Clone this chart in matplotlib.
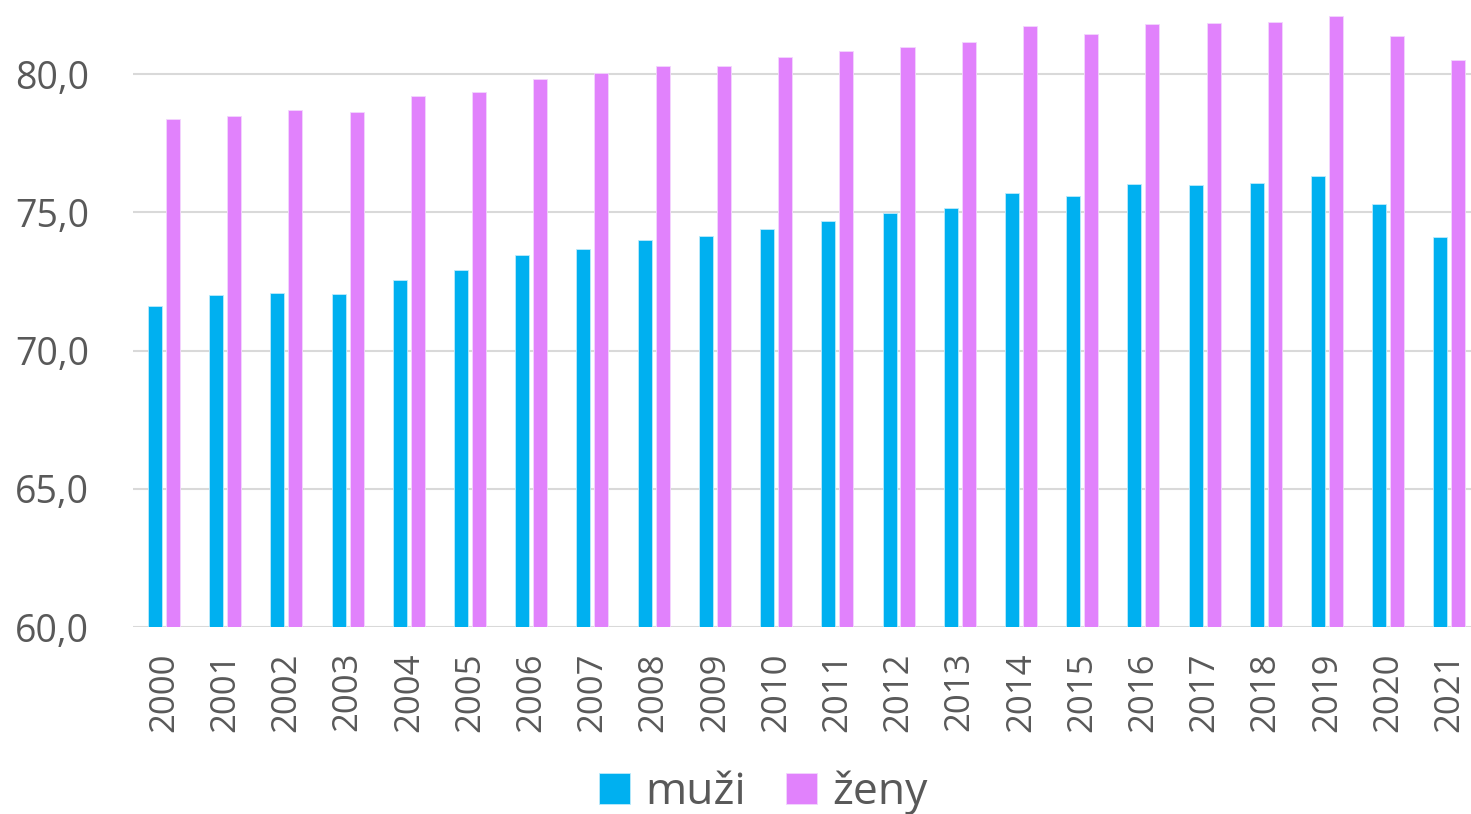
import numpy as np
import matplotlib.pyplot as plt

# Data
years = [str(y) for y in range(2000, 2022)]
muzi = [71.6, 72.0, 72.1, 72.05, 72.55, 72.9, 73.45, 73.67, 74.0, 74.14, 74.4,
        74.68, 74.97, 75.15, 75.7, 75.59, 76.02, 75.99, 76.06, 76.31, 75.3, 74.1]
zeny = [78.37, 78.48, 78.7, 78.63, 79.2, 79.35, 79.82, 80.04, 80.29, 80.29, 80.61,
        80.83, 80.98, 81.16, 81.74, 81.45, 81.81, 81.84, 81.88, 82.1, 81.37, 80.5]
labels = ['muži', 'ženy']
colors = ['#00B0F0', '#E182FC']

plt.rcParams['font.family'] = ['Open Sans', 'DejaVu Sans']
text_color = '#595959'

fig = plt.figure(figsize=(14.71, 8.14), dpi=100)
ax = fig.add_axes([0.0907, 0.2297, 0.9154, 0.7703])

x = np.arange(len(years))
w = 0.229
off = 0.147
ax.bar(x - off, muzi, width=w, color=colors[0], label=labels[0],
       edgecolor='#BDEBFB', linewidth=0.6, zorder=3)
ax.bar(x + off, zeny, width=w, color=colors[1], label=labels[1],
       edgecolor='#F3D6FD', linewidth=0.6, zorder=3)

ax.set_xlim(-0.5, len(years) - 0.5)
ax.set_ylim(60, 82.68)
ax.set_yticks([60, 65, 70, 75, 80])
ax.set_yticklabels(['60,0', '65,0', '70,0', '75,0', '80,0'])
ax.set_xticks(x)
ax.set_xticklabels(years, rotation=90)

ax.grid(axis='y', color='#D9D9D9', linewidth=1.5, zorder=0)
for s in ax.spines.values():
    s.set_visible(False)
ax.tick_params(axis='y', length=0, pad=32, labelsize=27, labelcolor=text_color)
ax.tick_params(axis='x', length=0, pad=18, labelsize=25, labelcolor=text_color)

fig.legend(loc='lower center', bbox_to_anchor=(0.519, -0.05), ncol=2,
           frameon=False, fontsize=32, handlelength=0.7, handleheight=0.7,
           handletextpad=0.35, columnspacing=0.9, labelcolor=text_color)

fig.savefig('out.png', dpi=100)
